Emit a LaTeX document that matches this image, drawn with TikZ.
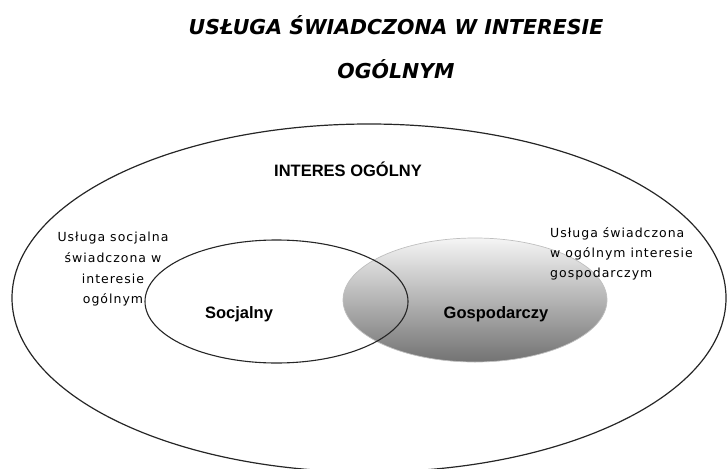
\documentclass[tikz,border=0pt]{standalone}
\usepackage{fontspec}
\setmainfont{DejaVu Sans}
\newfontfamily\labfont{Liberation Sans}
\newfontfamily\notefont{DejaVu Sans}[LetterSpace=8]
\usetikzlibrary{shapes.geometric}
\tikzset{
  titletext/.style={anchor=base, inner sep=0pt, font=\fontsize{20.5}{24}\selectfont\bfseries\itshape},
  bigtext/.style={anchor=base, inner sep=0pt, font=\labfont\fontsize{16.5}{20}\selectfont\bfseries},
  notetext/.style={anchor=base, inner sep=0pt, font=\notefont\fontsize{12.5}{15}\selectfont},
  ring/.style={ellipse, inner sep=0pt, draw=black!85}
}
\begin{document}
\begin{tikzpicture}[x=1pt,y=-1pt]
\useasboundingbox (0,0) rectangle (727,468);
\clip (0,0) rectangle (727,468);
\node[titletext] (t1) at (396,35) {USŁUGA ŚWIADCZONA W INTERESIE};
\node[titletext] (t2) at (396,79) {OGÓLNYM};
\node[ring, line width=1.2pt, minimum width=714pt, minimum height=348pt] (outer) at (369,298) {};
\node[ellipse, inner sep=0pt, draw=black!25, line width=0.7pt, top color=black!4, bottom color=black!55, minimum width=264pt, minimum height=124pt] (gosp) at (475,300) {};
\node[ring, line width=1.1pt, minimum width=263pt, minimum height=123pt] (soc) at (276.5,301.5) {};
\node[bigtext] (interes) at (348,176) {INTERES OGÓLNY};
\node[bigtext] (socl) at (239,318) {Socjalny};
\node[bigtext] (gospl) at (496,318) {Gospodarczy};
\node[notetext] (l1) at (113,241) {Usługa socjalna};
\node[notetext] (l2) at (113,262) {świadczona w};
\node[notetext] (l3) at (113,283) {interesie};
\node[notetext] (l4) at (113,303) {ogólnym};
\node[notetext, anchor=base west] (r1) at (550,237) {Usługa świadczona};
\node[notetext, anchor=base west] (r2) at (550,257) {w ogólnym interesie};
\node[notetext, anchor=base west] (r3) at (550,277) {gospodarczym};
\end{tikzpicture}
\end{document}
